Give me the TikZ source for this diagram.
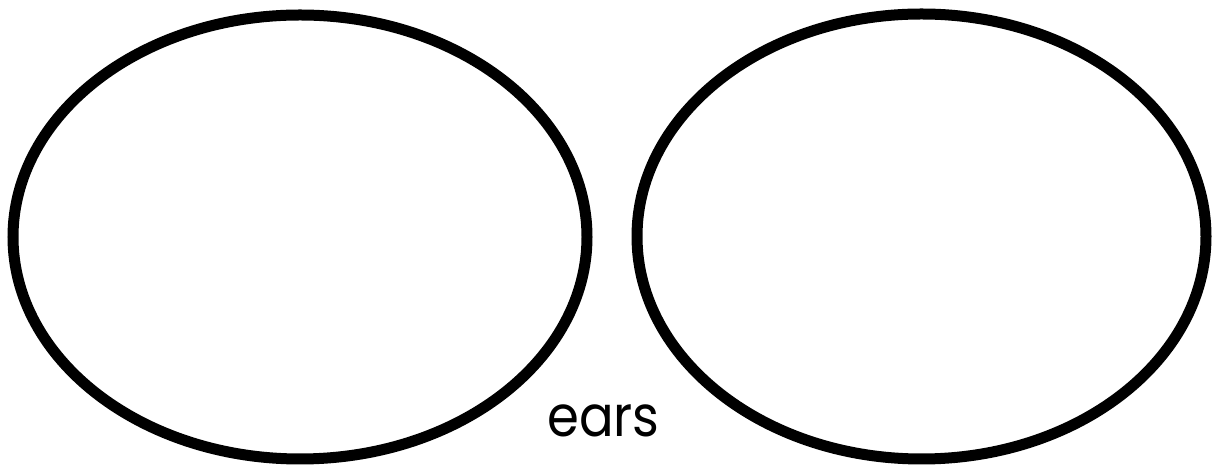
\documentclass[tikz,border=0pt]{standalone}
\usepackage{fontspec}
\setmainfont{Poppins}
\begin{document}
\begin{tikzpicture}[x=1pt,y=1pt,
  earshape/.style={draw=black,line width=11pt},
  label/.style={inner sep=0pt,font=\fontsize{57}{60}\selectfont}]
\useasboundingbox (0,0) rectangle (1219,468);
\draw[earshape] (300,231) ellipse [x radius=287,y radius=222];
\draw[earshape] (921.5,231.5) ellipse [x radius=284.5,y radius=222.5];
\node[label,anchor=base west] (ears) at (547,31) {\scalebox{0.9}[1]{ears}};
\end{tikzpicture}
\end{document}
